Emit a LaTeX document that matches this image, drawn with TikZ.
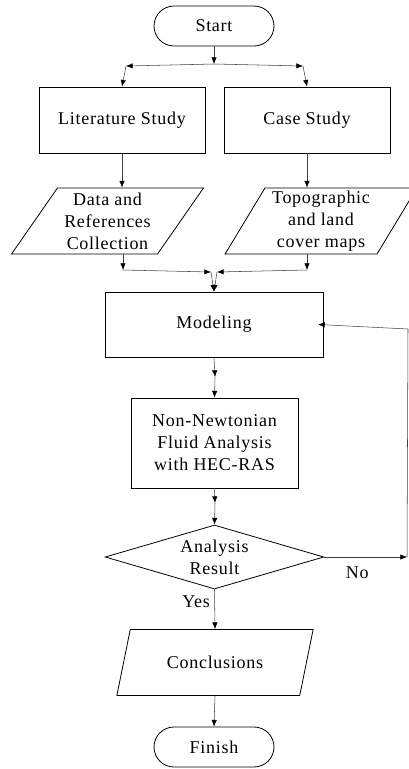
\documentclass[tikz,border=0pt]{standalone}
\usepackage{fontspec}
\setmainfont{Liberation Serif}[LetterSpace=4]
\usepackage{tikz}
\usetikzlibrary{shapes.geometric, arrows.meta}

\begin{document}
\begin{tikzpicture}[x=0.75pt, y=-0.75pt,
    >={Latex[length=5pt,width=4pt,color=black]},
    txt/.style={font=\fontsize{13.5}{16.5}\selectfont, align=center},
    terminal/.style={txt, draw, line width=0.6pt, rounded corners=15pt,
                     minimum width=90pt, minimum height=30pt},
    process/.style={txt, draw, line width=0.6pt, inner sep=0pt},
    data/.style={txt, draw, line width=0.6pt, trapezium, trapezium stretches=true,
                 inner sep=0pt, minimum width=144pt, minimum height=49.5pt},
    decision/.style={txt, draw, line width=0.6pt, diamond, aspect=3.4, inner sep=0pt,
                     minimum width=164pt, minimum height=48pt},
    link/.style={draw=black!75, line width=0.4pt}]
  \useasboundingbox (0,0) rectangle (409,769);
  % Start
  \node[terminal] (start) at (214,26) {Start};
  % Two studies
  \node[process, minimum width=124.5pt, minimum height=49.5pt] (lit) at (122,120) {Literature Study};
  \node[process, minimum width=124.5pt, minimum height=49.5pt] (case) at (307,120) {Case Study};
  % Inputs
  \node[data, trapezium left angle=55, trapezium right angle=125] (refs) at (107.5,221)
       {Data and\\References\\Collection};
  \node[data, trapezium left angle=60, trapezium right angle=120] (maps) at (321,221)
       {Topographic\\and land\\cover maps};
  % Modeling and analysis
  \node[process, minimum width=163.5pt, minimum height=48.75pt] (model) at (214,324.5) {Modeling};
  \node[process, minimum width=125.25pt, minimum height=67.5pt] (hec) at (214.5,443)
       {Non-Newtonian\\Fluid Analysis\\with HEC-RAS};
  \node[decision] (result) at (214.5,557) {Analysis\\Result};
  % Output
  \node[data, minimum width=148pt, trapezium left angle=59, trapezium right angle=121] (concl) at (215,662.5) {Conclusions};
  \node[terminal] (finish) at (214,747) {Finish};
  % Split points
  \coordinate (split) at (214,64);
  \coordinate (splitL) at (126,66);
  \coordinate (splitR) at (303,66);
  \coordinate (joinL) at (123,270);
  \coordinate (joinR) at (307,270);
  \coordinate (mergeL) at (211,272);
  \coordinate (mergeR) at (217,272);
  \coordinate (midA) at (215,377);
  \coordinate (midB) at (215,503);
  \coordinate (noEnd) at (407,557);
  \coordinate (backTop) at (408,329);
  % Arrows from start to studies
  \draw[link, ->] (start) -- (split);
  \draw[link, ->] (split) -- (splitL);
  \draw[link, ->] (split) -- (splitR);
  \draw[link, ->] (splitL) -- (lit.north);
  \draw[link, ->] (splitR) -- (case.north);
  % Arrows from studies to inputs
  \draw[link, ->] (lit.south) -- (lit.south |- refs.north);
  \draw[link, ->] (case.south) -- (case.south |- maps.north);
  % Arrows from inputs to modeling
  \draw[link, ->] (joinL |- refs.south) -- (joinL);
  \draw[link, ->] (joinR |- maps.south) -- (joinR);
  \draw[link, ->] (joinL) -- (mergeL);
  \draw[link, ->] (joinR) -- (mergeR);
  \draw[link, ->] (mergeL) -- (model.north);
  \draw[link, ->] (mergeR) -- (model.north);
  % Main line
  \draw[link, ->] (model.south) -- (midA);
  \draw[link, ->] (midA) -- (hec.north);
  \draw[link, ->] (hec.south) -- (midB);
  \draw[link, ->] (midB) -- (result.north);
  \draw[link, ->] (result.south) -- node[txt, left, pos=0.3] (yes) {Yes} (concl.north);
  \draw[link, ->] (concl.south) -- (finish.north);
  % Loop back
  \draw[link, ->] (result.east) -- node[txt, below=4pt, pos=0.4] (no) {No} (noEnd);
  \draw[link] (noEnd) -- (backTop);
  \draw[link, ->] (backTop) -- ([xshift=-4pt]model.east);
\end{tikzpicture}
\end{document}
